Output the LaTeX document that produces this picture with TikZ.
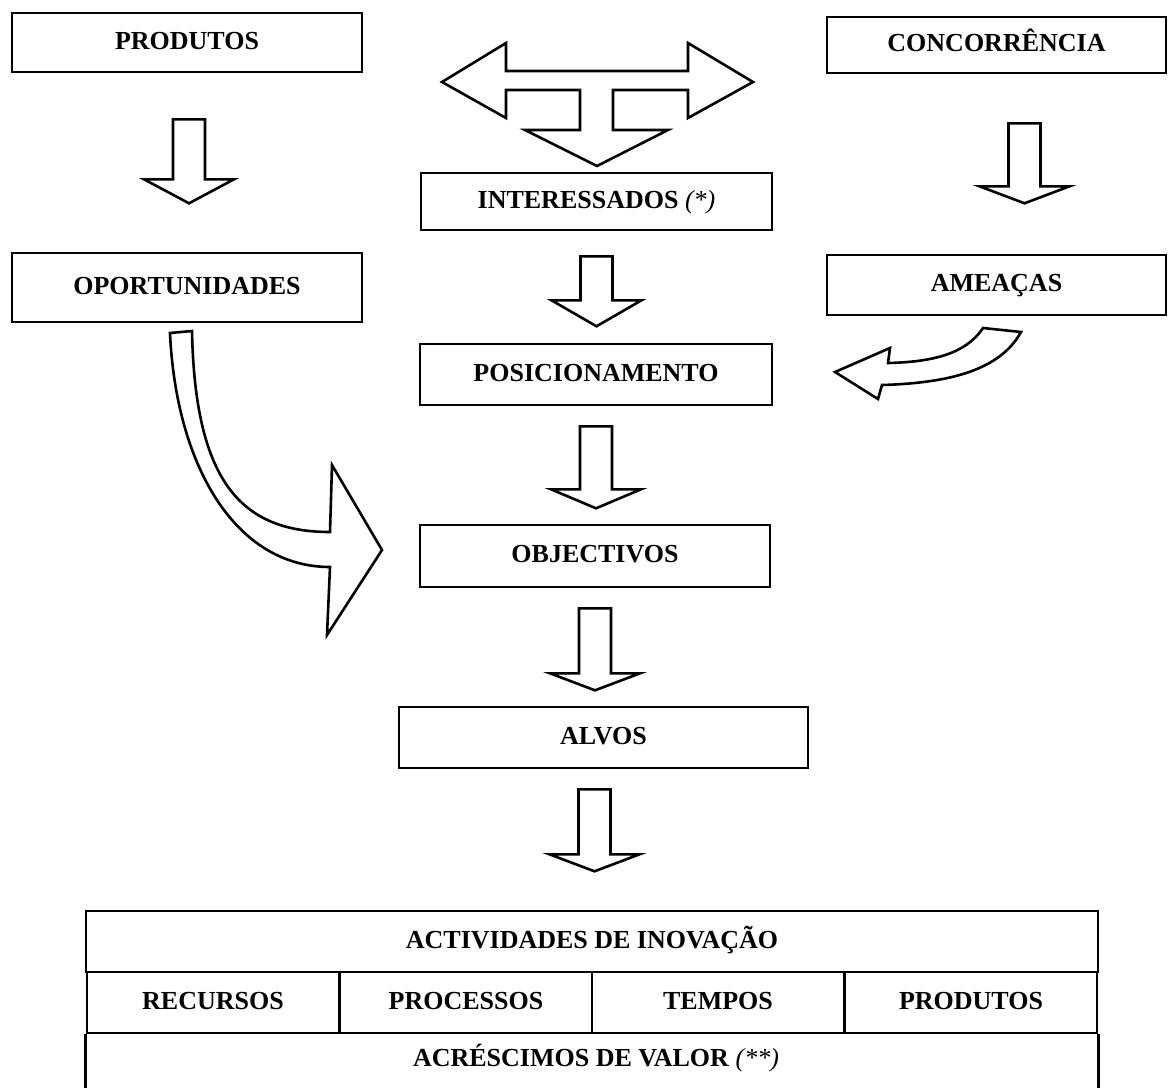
\documentclass[tikz,border=0pt]{standalone}
\usepackage{fontspec}
\setmainfont{Liberation Serif}
\usetikzlibrary{calc}

\newcommand{\boxfont}{\fontsize{13}{15}\selectfont\bfseries}
\newcommand{\note}[1]{\textnormal{\textit{#1}}}

\tikzset{
  box/.style={draw, line width=1.3pt, inner sep=0pt, font=\boxfont,
    text height=0.68em, text depth=0pt},
  blockline/.style={draw, line width=1.3pt, line join=miter},
  pics/blockdown/.style 2 args={code={
    \draw[blockline] (-16,0) -- (16,0) -- (16,#1) -- (45,#1) -- (0,#1+#2)
      -- (-45,#1) -- (-16,#1) -- cycle;}}
}

\begin{document}
\begin{tikzpicture}[x=0.5pt,y=-0.5pt]
  \useasboundingbox (0,0) rectangle (1176,1087);

  %% Side columns
  \node[box, minimum width=175pt, minimum height=29.5pt] (prod)  at (187,42.5)   {PRODUTOS};
  \node[box, minimum width=175pt, minimum height=34.5pt] (oport) at (187,287.5)  {OPORTUNIDADES};
  \node[box, minimum width=169.5pt, minimum height=28pt] (conc)  at (996.5,45)   {CONCORRÊNCIA};
  \node[box, minimum width=169.5pt, minimum height=30pt] (amea)  at (996.5,285)  {AMEAÇAS};

  %% Centre column
  \node[box, minimum width=175.5pt, minimum height=28.5pt] (interes) at (596.5,201.5) {INTERESSADOS \note{(*)}};
  \node[box, minimum width=176pt, minimum height=30.5pt]   (posic)   at (596,374.5)   {POSICIONAMENTO};
  \node[box, minimum width=175pt, minimum height=31pt]     (objec)   at (595,556)     {OBJECTIVOS};
  \node[box, minimum width=204.5pt, minimum height=30.5pt] (alvos)   at (603.5,737.5) {ALVOS};

  %% Table at the bottom
  \node[box, minimum width=506pt, minimum height=30.5pt] (activ) at (592,941.5) {ACTIVIDADES DE INOVAÇÃO};
  \foreach \n/\x/\t in {recur/213/RECURSOS, proc/466/PROCESSOS, temp/718/TEMPOS, prodt/971/PRODUTOS}
    \node[box, minimum width=126pt, minimum height=30.5pt] (\n) at (\x,1002.5) {\t};
  \node[font=\boxfont, text height=0.68em, text depth=0pt] (acresc) at (596,1060) {ACRÉSCIMOS DE VALOR \note{(**)}};
  \draw[line width=1.3pt] (recur.south west) -- ++(0,54);
  \draw[line width=1.3pt] (prodt.south east) -- ++(0,54);

  %% Straight block arrows
  \path ($(prod.south)+(2,46)$) pic {blockdown={60}{24}};
  \path ($(conc.south)+(28,49)$) pic {blockdown={63}{17}};
  \foreach \n/\dx/\dy/\l/\h in {interes/0/25/44/26, posic/0/20/63/19, objec/0/20/65/17, alvos/-9/20/65/17}
    \path ($(\n.south)+(\dx,\dy)$) pic {blockdown={\l}{\h}};

  %% Three-way arrow above INTERESSADOS
  \draw[blockline] (442,82) -- (506,43) -- (506,71) -- (688,71) -- (688,43) -- (753,82)
    -- (688,118) -- (688,90) -- (613,90) -- (613,130) -- (668,130) -- (597,166)
    -- (525,130) -- (580,130) -- (580,90) -- (506,90) -- (506,118) -- cycle;

  %% Curved arrows
  \draw[blockline] (170,333) .. controls (176,465) and (235,567) .. (330,567)
    -- (327,635) -- (382,550) -- (332,465) -- (330,532)
    .. controls (240,532) and (195,480) .. (192,331) -- cycle;
  \draw[blockline] (983,328) .. controls (965,355) and (930,362) .. (888,363)
    -- (890,348) -- (835,372) -- (878,399) -- (882,385)
    .. controls (950,383) and (1000,370) .. (1021,332) -- cycle;
\end{tikzpicture}
\end{document}
